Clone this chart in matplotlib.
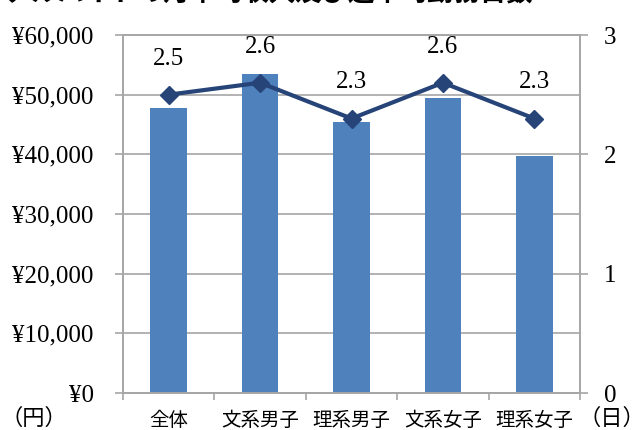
import matplotlib
matplotlib.use("Agg")
import matplotlib.pyplot as plt
from matplotlib.ticker import FuncFormatter

categories = ["全体", "文系男子", "理系男子", "文系女子", "理系女子"]
income = [47700, 53400, 45400, 49400, 39700]
days = [2.5, 2.6, 2.3, 2.6, 2.3]
title = "アルバイトの月平均収入及び週平均勤務日数"

jp = ["Noto Sans CJK JP", "DejaVu Sans"]
serif = ["Liberation Serif", "DejaVu Serif"]

fig = plt.figure(figsize=(6.4, 4.3), dpi=100)
ax = fig.add_axes([123/640, 1-393/430, (580-123)/640, (393-35)/430])
ax2 = ax.twinx()

x = list(range(len(categories)))
ax.bar(x, income, width=0.4, color="#4F81BD", zorder=2)
ax.set_ylim(0, 60000)
ax.set_xlim(-0.5, len(categories)-0.5)
ax.set_yticks(range(0, 60001, 10000))
ax.yaxis.set_major_formatter(FuncFormatter(lambda v, p: "¥{:,.0f}".format(v)))
ax.grid(axis="y", color="#A6A6A6", lw=1.2, zorder=0)
ax.set_axisbelow(True)
ax.set_xticks([i + 0.5 for i in range(-1, len(categories))])
ax.set_xticklabels([])
ax.set_xticks(x, minor=True)
ax.set_xticklabels(categories, minor=True, fontfamily=jp, fontsize=14)
ax.tick_params(axis="x", which="minor", length=0, pad=12)
ax.tick_params(axis="x", which="major", length=5, color="#A6A6A6", width=1.2)
ax.tick_params(axis="y", length=6, color="#A6A6A6", width=1.2, labelsize=18, pad=15)
for lab in ax.get_yticklabels():
    lab.set_fontfamily(serif)

ax2.plot(x, days, color="#264478", lw=3, marker="D", markersize=9, zorder=3)
ax2.set_ylim(0, 3)
ax2.set_yticks([0, 1, 2, 3])
ax2.tick_params(axis="y", length=6, color="#A6A6A6", width=1.2, labelsize=18, pad=11)
for lab in ax2.get_yticklabels():
    lab.set_fontfamily(serif)
for xi, d in zip(x, days):
    ax2.annotate("{:.1f}".format(d), (xi, d), xytext=(0, 26), textcoords="offset points",
                 ha="center", va="center", fontsize=18, fontfamily=serif)

for a in (ax, ax2):
    for s in a.spines.values():
        s.set_color("#A6A6A6")
        s.set_linewidth(1.2)

fig.text(5/640, 1.0 + 6/430, title, fontfamily=jp, fontsize=19, fontweight="bold",
         ha="left", va="center")
fig.text(0/640, 1-418/430, "（円）", fontfamily=jp, fontsize=16, ha="left", va="center")
fig.text(612/640, 1-418/430, "（日）", fontfamily=jp, fontsize=16, ha="center", va="center")

fig.savefig("out.png", dpi=100)
